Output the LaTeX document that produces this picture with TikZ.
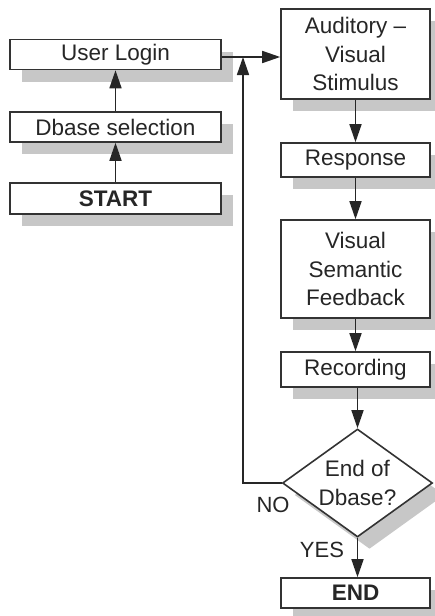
\documentclass[tikz,border=0pt]{standalone}
\usepackage{fontspec}
\setmainfont{Liberation Sans}
\usetikzlibrary{arrows.meta,shapes.geometric,shadows}

\tikzset{
  boxshadow/.style={drop shadow={shadow xshift=12pt,shadow yshift=-12pt,fill=black!22,opacity=1}},
  stepbox/.style={draw=black!80,line width=1.6pt,fill=white,rectangle,inner sep=0pt,
    align=center,text=black!85,font=\fontsize{22.5}{28.5}\selectfont,boxshadow},
  decision/.style={draw=black!80,line width=1.6pt,fill=white,diamond,aspect=1.39,inner sep=0pt,
    minimum width=150pt,minimum height=108pt,align=center,text=black!85,
    font=\fontsize{22.5}{28.5}\selectfont,boxshadow},
  flow/.style={draw=black!85,line width=1.6pt,-{Triangle[length=18pt,width=12pt]}},
  plain/.style={draw=black!85,line width=1.6pt},
  tag/.style={text=black!85,font=\fontsize{22}{26}\selectfont,inner sep=0pt}
}

\begin{document}
\begin{tikzpicture}[x=1pt,y=-1pt]
  \useasboundingbox (0,0) rectangle (434,616);

  % left column
  \node[stepbox,minimum width=211pt,minimum height=30pt] (login) at (115.5,54.5) {User Login};
  \node[stepbox,minimum width=211pt,minimum height=30pt] (dbsel) at (115.5,127) {Dbase selection};
  \node[stepbox,minimum width=211pt,minimum height=31pt] (start) at (115.5,198.5) {\bfseries START};

  % right column
  \node[stepbox,minimum width=149pt,minimum height=90pt] (stim) at (355.5,54) {Auditory –\\Visual\\Stimulus};
  \node[stepbox,minimum width=149pt,minimum height=34pt] (resp) at (355.5,160) {Response};
  \node[stepbox,minimum width=149pt,minimum height=98pt] (feed) at (355.5,269) {Visual\\Semantic\\Feedback};
  \node[stepbox,minimum width=149pt,minimum height=35pt] (rec) at (355.5,369.5) {Recording};
  \node[decision] (dec) at (357.5,483) {End of\\Dbase?};
  \node[stepbox,minimum width=149pt,minimum height=30pt] (fin) at (355.5,593) {\bfseries END};

  % connectors
  \draw[flow] (start) -- (dbsel);
  \draw[flow] (dbsel) -- (login);

  \coordinate (join) at (243,57);
  \draw[flow] (login.east |- join) -- (stim.west |- join);
  \draw[flow] (dec.west) -| (join);

  \draw[flow] (stim) -- (resp);
  \draw[flow] (resp) -- (feed);
  \draw[flow] (feed) -- (rec);
  \draw[flow] (dec.north |- rec.south) -- (dec.north);
  \draw[flow] (dec.south) -- (dec.south |- fin.north);

  % branch labels
  \node[tag] (no) at (273,505) {NO};
  \node[tag] (yes) at (322,550) {YES};
\end{tikzpicture}
\end{document}
